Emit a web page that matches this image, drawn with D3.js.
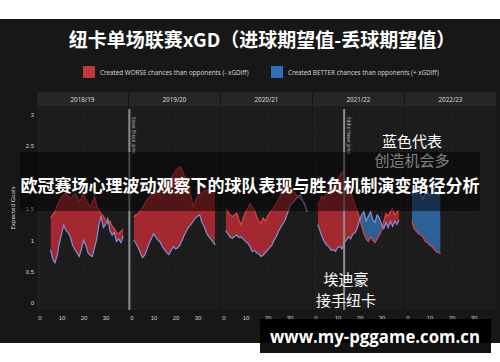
<!DOCTYPE html>
<html>
<head>
<meta charset="utf-8">
<script src="https://cdn.jsdelivr.net/npm/d3@7"></script>
<style>
  body { margin: 0; background: #fff; }
  svg { display: block; font-family: "Noto Sans", sans-serif; }
</style>
</head>
<body>
<svg width="500" height="362"></svg>
<script>
// rolling xG for / against per league game, one facet per season
var seasons = ["2018/19", "2019/20", "2020/21", "2021/22", "2022/23"];
var firstGame = [5, 1, 1, 1, 2];

var xgFor1819 = [0.85,0.70,0.64,0.75,0.95,1.10,1.24,1.15,1.12,1.05,0.92,0.85,0.80,0.74,0.85,1.00,0.92,0.80,0.76,0.74,0.88,1.02,1.25,1.38,1.20,1.25,1.34,1.15,1.08,1.12,0.98,1.02,0.96,1.07];
var xgAgainst1819 = [1.35,1.40,1.45,1.55,1.62,1.68,1.72,1.75,1.70,1.66,1.70,1.74,1.70,1.62,1.66,1.75,1.64,1.58,1.52,1.60,1.70,1.55,1.46,1.42,1.38,1.32,1.26,1.30,1.22,1.18,1.12,1.10,1.14,1.18];

var xgFor1920 = [1.00,0.95,0.88,0.80,0.72,0.76,0.85,0.95,1.02,1.10,1.05,1.00,0.97,0.90,0.85,0.80,0.77,0.84,0.90,0.86,0.88,0.92,1.00,1.08,1.15,1.21,1.25,1.30,1.35,1.38,1.40,1.28,1.22,1.12,1.06,1.02,0.97,0.92];
var xgAgainst1920 = [1.37,1.40,1.42,1.46,1.52,1.58,1.64,1.68,1.72,1.70,1.75,1.80,1.78,1.84,1.90,1.88,1.93,1.98,2.05,2.10,2.14,2.17,2.10,2.02,1.96,1.85,1.70,1.53,1.62,1.70,1.72,1.76,1.78,1.80,1.80,1.78,1.76,1.75];

var xgFor2021 = [1.15,1.10,1.05,1.03,1.06,1.08,1.04,1.05,1.02,0.98,0.95,0.90,0.82,0.84,0.80,0.78,0.74,0.76,0.80,0.84,0.88,0.92,1.00,1.06,1.14,1.20,1.26,1.32,1.42,1.53,1.58,1.61,1.66,1.70,1.72,1.62,1.54,1.45];
var xgAgainst2021 = [1.50,1.45,1.40,1.37,1.40,1.43,1.32,1.24,1.35,1.45,1.50,1.58,1.52,1.48,1.38,1.30,1.27,1.35,1.30,1.38,1.43,1.48,1.53,1.58,1.65,1.72,1.82,1.91,1.86,1.88,1.82,1.76,1.72,1.68,1.66,1.62,1.58,1.46];

var xgFor2122 = [1.25,1.15,1.05,0.98,0.92,0.90,0.84,0.85,0.82,0.88,0.90,0.86,0.96,1.00,1.05,1.02,1.10,1.12,1.20,1.32,1.40,1.45,1.30,1.38,1.45,1.32,1.28,1.40,1.35,1.25,1.18,1.28,1.20,1.30,1.22,1.30,1.25,1.32];
var xgAgainst2122 = [1.55,1.62,1.70,1.66,1.75,1.80,1.78,1.85,1.90,1.95,2.02,2.08,2.00,1.92,1.85,1.75,1.66,1.55,1.45,1.35,1.22,1.10,1.02,0.98,1.05,1.00,0.96,1.02,1.08,1.15,1.30,1.42,1.38,1.45,1.50,1.40,1.45,1.48];

var xgFor2223 = [1.70,1.78,1.74,1.82,1.72,1.65,1.75,1.80,1.70,1.76,1.84,1.78,1.72,1.75];
var xgAgainst2223 = [1.30,1.18,1.14,1.10,1.08,1.05,0.98,0.96,0.92,0.90,0.86,0.82,0.80,0.79];

var xgFor = [xgFor1819, xgFor1920, xgFor2021, xgFor2122, xgFor2223];
var xgAgainst = [xgAgainst1819, xgAgainst1920, xgAgainst2021, xgAgainst2122, xgAgainst2223];

var yTicks = [0, 0.5, 1, 1.5, 2, 2.5, 3];
var xTicks = [0, 10, 20, 30];

var managerSeason = [1, 3];
var managerGame = [-1, 13];
var managerLabel = ["Steve Bruce joins", "Eddie Howe joins"];

var legendLabels = ["Created WORSE chances than opponents (- xGDiff)", "Created BETTER chances than opponents (+ xGDiff)"];

var svg = d3.select("svg");

var panelLeft = 37, panelW = 91, panelGap = 1,
    stripTop = 92, plotTop = 106, plotBottom = 310;

var x = d3.scaleLinear().domain([-1.15, 40.2]).range([0, panelW]),
    y = d3.scaleLinear().domain([-0.11, 3.13]).range([plotBottom, plotTop]);

var redFill = "#a3282f", blueFill = "#2d6096",
    redLine = "#e2433f", blueLine = "#7d93d8";

// dark card
svg.append("rect")
    .attr("x", 0).attr("y", 19)
    .attr("width", 500).attr("height", 324)
    .attr("fill", "#171717");

svg.append("text")
    .attr("x", 262).attr("y", 47)
    .attr("text-anchor", "middle")
    .style("font-family", "'Noto Sans CJK SC'")
    .style("font-weight", "bold")
    .style("font-size", "19px")
    .attr("fill", "#fff")
    .text("纽卡单场联赛xGD（进球期望值-丢球期望值）");

// legend
var legend = svg.append("g");
[[83, redFill], [271, blueFill]].forEach(function(l, i) {
  legend.append("rect")
      .attr("x", l[0]).attr("y", 66)
      .attr("width", 12).attr("height", 12)
      .attr("fill", i == 0 ? "#c0393f" : "#2b70b5");
  legend.append("text")
      .attr("x", l[0] + 17).attr("y", 74.5)
      .style("font-size", "6.3px")
      .attr("fill", "#cfcfcf")
      .text(legendLabels[i]);
});

var defs = svg.append("defs");

seasons.forEach(function(season, i) {
  var left = panelLeft + i * (panelW + panelGap);
  var g = svg.append("g").attr("transform", "translate(" + left + ",0)");

  g.append("rect")
      .attr("x", 0).attr("y", stripTop)
      .attr("width", panelW).attr("height", plotTop - stripTop)
      .attr("fill", "#262626");
  g.append("text")
      .attr("x", panelW / 2).attr("y", stripTop + 9.5)
      .attr("text-anchor", "middle")
      .style("font-size", "6.3px")
      .attr("fill", "#dcdcdc")
      .text(season);

  g.append("rect")
      .attr("x", 0).attr("y", plotTop)
      .attr("width", panelW).attr("height", plotBottom - plotTop)
      .attr("fill", "#1c1c1c");

  // faint grid
  g.selectAll(".gy").data(yTicks).enter().append("line")
      .attr("x1", 0).attr("x2", panelW)
      .attr("y1", function(d) { return y(d); })
      .attr("y2", function(d) { return y(d); })
      .attr("stroke", "#292929").attr("stroke-dasharray", "1,2");
  g.selectAll(".gx").data(xTicks).enter().append("line")
      .attr("x1", function(d) { return x(d); })
      .attr("x2", function(d) { return x(d); })
      .attr("y1", plotTop).attr("y2", plotBottom)
      .attr("stroke", "#292929").attr("stroke-dasharray", "1,2");

  var xAxis = g.append("g")
      .attr("transform", "translate(0," + plotBottom + ")")
      .call(d3.axisBottom(x).tickValues(xTicks).tickSize(0).tickPadding(6));
  xAxis.select(".domain").remove();
  xAxis.selectAll("text").style("font-size", "6px").attr("fill", "#cfcfcf");

  var data = xgFor[i].map(function(v, j) {
    return {game: firstGame[i] + j, f: v, a: xgAgainst[i][j]};
  });

  var above = d3.area()
      .x(function(d) { return x(d.game); })
      .y0(plotTop)
      .y1(function(d) { return y(d.f); });
  var below = d3.area()
      .x(function(d) { return x(d.game); })
      .y0(plotBottom)
      .y1(function(d) { return y(d.f); });
  var between = d3.area()
      .x(function(d) { return x(d.game); })
      .y0(function(d) { return y(d.f); })
      .y1(function(d) { return y(d.a); });

  defs.append("clipPath").attr("id", "above" + i)
    .append("path").attr("d", above(data));
  defs.append("clipPath").attr("id", "below" + i)
    .append("path").attr("d", below(data));

  g.append("path")
      .attr("d", between(data))
      .attr("clip-path", "url(#above" + i + ")")
      .attr("fill", redFill);
  g.append("path")
      .attr("d", between(data))
      .attr("clip-path", "url(#below" + i + ")")
      .attr("fill", blueFill);

  g.append("path")
      .attr("d", d3.line().x(function(d) { return x(d.game); }).y(function(d) { return y(d.a); })(data))
      .attr("fill", "none").attr("stroke", redLine).attr("stroke-width", 1.2);
  g.append("path")
      .attr("d", d3.line().x(function(d) { return x(d.game); }).y(function(d) { return y(d.f); })(data))
      .attr("fill", "none").attr("stroke", blueLine).attr("stroke-width", 1.2);

  // manager change markers
  managerSeason.forEach(function(s, k) {
    if (s != i) return;
    var mx = x(managerGame[k]);
    g.append("line")
        .attr("x1", mx).attr("x2", mx)
        .attr("y1", 109).attr("y2", plotBottom)
        .attr("stroke", "#8e8e8e").attr("stroke-width", 2);
    g.append("text")
        .attr("transform", "translate(" + (mx + 2.5) + ",117) rotate(90)")
        .style("font-size", "4.6px")
        .attr("fill", "#bdbdbd")
        .text(managerLabel[k]);
  });
});

var yAxis = svg.append("g")
    .attr("transform", "translate(" + panelLeft + ",0)")
    .call(d3.axisLeft(y).tickValues(yTicks).tickSize(0).tickPadding(3).tickFormat(d3.format("~g")));
yAxis.select(".domain").remove();
yAxis.selectAll("text").style("font-size", "6px").attr("fill", "#cfcfcf");

svg.append("text")
    .attr("transform", "translate(15,208) rotate(-90)")
    .attr("text-anchor", "middle")
    .style("font-size", "6px")
    .attr("fill", "#dcdcdc")
    .text("Expected Goals");

svg.append("text")
    .attr("x", 263).attr("y", 336)
    .style("font-size", "6px")
    .attr("fill", "#8a8a8a")
    .text("©");

// annotations
var cjk = "'Noto Sans CJK SC'";
[["蓝色代表", 412, 147], ["创造机会多", 412, 166], ["埃迪豪", 346, 285], ["接手纽卡", 346, 306]].forEach(function(t) {
  svg.append("text")
      .attr("x", t[1]).attr("y", t[2])
      .attr("text-anchor", "middle")
      .style("font-family", cjk)
      .style("font-size", "15px")
      .attr("fill", "#fff")
      .text(t[0]);
});

// overlay banner
svg.append("rect")
    .attr("x", 20).attr("y", 152)
    .attr("width", 460).attr("height", 59)
    .attr("fill", "rgba(0,0,0,0.5)");
svg.append("text")
    .attr("x", 250).attr("y", 192)
    .attr("text-anchor", "middle")
    .style("font-family", cjk)
    .style("font-weight", "bold")
    .style("font-size", "17px")
    .attr("fill", "#fff")
    .text("欧冠赛场心理波动观察下的球队表现与胜负机制演变路径分析");

// watermark
svg.append("rect")
    .attr("x", 260).attr("y", 319)
    .attr("width", 231).attr("height", 34)
    .attr("fill", "rgba(0,0,0,0.93)");
svg.append("text")
    .attr("x", 375).attr("y", 343)
    .attr("text-anchor", "middle")
    .attr("textLength", 210)
    .attr("lengthAdjust", "spacingAndGlyphs")
    .style("font-family", "'Open Sans'")
    .style("font-weight", "bold")
    .style("font-size", "18px")
    .attr("fill", "#fff")
    .text("www.my-pggame.com.cn");
</script>
</body>
</html>
